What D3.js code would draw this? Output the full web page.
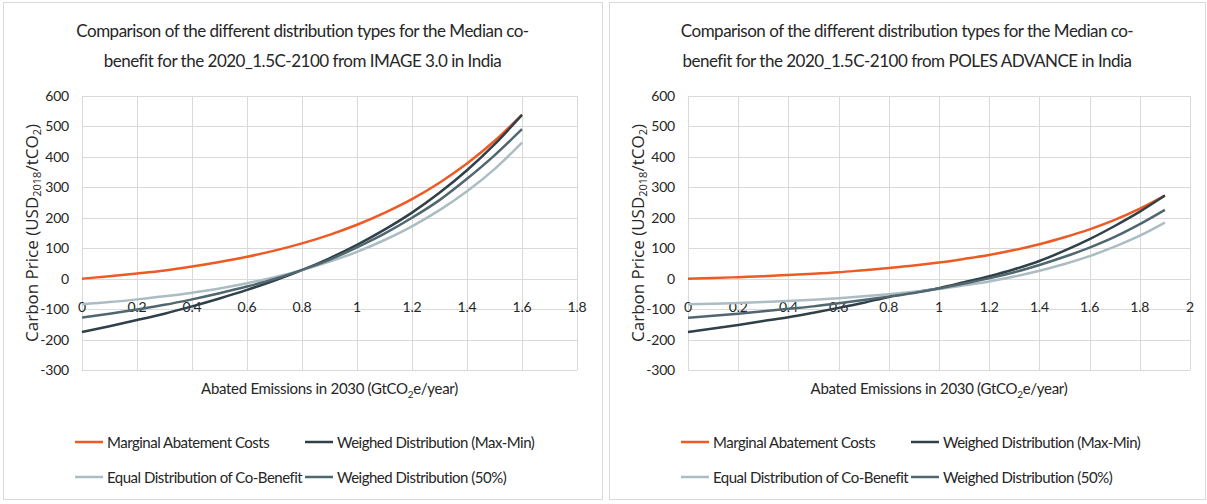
<!DOCTYPE html>
<html>
<head>
<meta charset="utf-8">
<title>Distribution types - India</title>
<script src="https://d3js.org/d3.v7.min.js"></script>
<style>
  body, html { margin: 0; padding: 0; background: #fff; }
  svg { display: block; }
  .narrow { font-family: Lato, "Liberation Sans", sans-serif; fill: #262626; }
  .grid line { stroke: #d9d9d9; stroke-width: 1; }
</style>
</head>
<body>
<svg id="chart" width="1207" height="504"></svg>
<script>
// ---- data ----
const seriesNames = ["Marginal Abatement Costs", "Weighed Distribution (Max-Min)",
                     "Equal Distribution of Co-Benefit", "Weighed Distribution (50%)"];
const seriesColors = ["#ee5a24", "#2f4048", "#abbdc3", "#506770"];

// IMAGE 3.0
const imageX        = [0, 0.1, 0.2, 0.3, 0.4, 0.5, 0.6, 0.7, 0.8, 0.9, 1.0, 1.1, 1.2, 1.3, 1.4, 1.5, 1.6];
const imageMarginal = [0, 8, 17, 27, 40, 55, 72, 92, 116, 144, 177, 216, 261, 315, 378, 452, 538];
const imageMaxMin   = [-175, -156, -136, -115, -91, -65, -37, -6, 28, 67, 111, 161, 217, 282, 356, 441, 538];
const imageEqual    = [-84, -77, -68, -58, -46, -32, -15, 5, 28, 56, 88, 127, 172, 225, 287, 360, 447];
const imageHalf     = [-128, -115, -101, -86, -68, -48, -26, -1, 29, 62, 103, 148, 200, 258, 328, 405, 491];

// POLES ADVANCE
const polesX        = [0, 0.1, 0.2, 0.3, 0.4, 0.5, 0.6, 0.7, 0.8, 0.9, 1.0, 1.1, 1.2, 1.3, 1.4, 1.5, 1.6, 1.7, 1.8, 1.9];
const polesMarginal = [0, 2, 5, 8, 12, 16, 21, 28, 35, 43, 53, 65, 78, 94, 113, 136, 162, 193, 230, 273];
const polesMaxMin   = [-175, -164, -152, -139, -127, -112, -96, -79, -60, -45, -31, -12, 8, 31, 58, 92, 130, 173, 220, 273];
const polesEqual    = [-84, -82, -80, -77, -73, -69, -64, -58, -51, -43, -34, -22, -9, 7, 26, 48, 74, 105, 141, 184];
const polesHalf     = [-128, -122, -115, -107, -99, -91, -81, -70, -59, -47, -32, -16, 1, 21, 45, 72, 102, 137, 179, 226];

const yTicks = [-300, -200, -100, 0, 100, 200, 300, 400, 500, 600];

const charts = [
  { title: ["Comparison of the different distribution types for the Median co-",
            "benefit for the 2020_1.5C-2100 from IMAGE 3.0 in India"],
    x: imageX, xMax: 1.8, xTicks: [0, 0.2, 0.4, 0.6, 0.8, 1, 1.2, 1.4, 1.6, 1.8],
    series: [imageMarginal, imageMaxMin, imageEqual, imageHalf],
    panel: { left: 3, right: 602 }, plot: { left: 82, right: 577 } },
  { title: ["Comparison of the different distribution types for the Median co-",
            "benefit for the 2020_1.5C-2100 from POLES ADVANCE in India"],
    x: polesX, xMax: 2, xTicks: [0, 0.2, 0.4, 0.6, 0.8, 1, 1.2, 1.4, 1.6, 1.8, 2],
    series: [polesMarginal, polesMaxMin, polesEqual, polesHalf],
    panel: { left: 609, right: 1205 }, plot: { left: 688, right: 1190 } }
];

const svg = d3.select("#chart");
const plotTop = 96, plotBottom = 370;

charts.forEach(c => {
  const g = svg.append("g");
  const panelMid = (c.panel.left + c.panel.right) / 2;

  g.append("rect")
    .attr("x", c.panel.left + 0.5).attr("y", 2.5)
    .attr("width", c.panel.right - c.panel.left).attr("height", 497)
    .attr("fill", "#fff").attr("stroke", "#d9d9d9");

  const x = d3.scaleLinear().domain([0, c.xMax]).range([c.plot.left, c.plot.right]);
  const y = d3.scaleLinear().domain([-300, 600]).range([plotBottom, plotTop]);

  // title
  g.selectAll(".title").data(c.title).join("text")
    .attr("class", "narrow")
    .attr("x", panelMid).attr("y", (d, i) => 37 + i * 30)
    .attr("text-anchor", "middle")
    .style("font-size", "17px")
    .style("letter-spacing", "-0.5px")
    .text(d => d);

  // grid
  const grid = g.append("g").attr("class", "grid");
  grid.selectAll(".h").data(yTicks).join("line")
    .attr("x1", c.plot.left).attr("x2", c.plot.right)
    .attr("y1", d => Math.round(y(d)) + 0.5).attr("y2", d => Math.round(y(d)) + 0.5);
  grid.selectAll(".v").data(c.xTicks).join("line")
    .attr("x1", d => Math.round(x(d)) + 0.5).attr("x2", d => Math.round(x(d)) + 0.5)
    .attr("y1", plotTop).attr("y2", plotBottom);

  // y tick labels
  g.selectAll(".ylab").data(yTicks).join("text")
    .attr("class", "narrow")
    .attr("x", c.plot.left - 13).attr("y", d => y(d) + 5)
    .attr("text-anchor", "end")
    .style("font-size", "14px")
    .style("letter-spacing", "-0.2px")
    .text(d => d);

  // x tick labels (sit under the zero line)
  g.selectAll(".xlab").data(c.xTicks).join("text")
    .attr("class", "narrow")
    .attr("x", d => x(d)).attr("y", y(0) + 33)
    .attr("text-anchor", "middle")
    .style("font-size", "14px")
    .style("letter-spacing", "-0.2px")
    .text(d => d);

  // axis titles
  const yt = g.append("text")
    .attr("transform", `translate(${c.panel.left + 35},${(plotTop + plotBottom) / 2}) rotate(-90)`)
    .attr("text-anchor", "middle")
    .style("font-family", "'Open Sans', sans-serif")
    .style("font-size", "17px")
    .attr("fill", "#262626");
  yt.append("tspan").text("Carbon Price (USD");
  yt.append("tspan").attr("dy", 3).style("font-size", "11px").text("2018");
  yt.append("tspan").attr("dy", -3).text("/tCO");
  yt.append("tspan").attr("dy", 3).style("font-size", "11px").text("2");
  yt.append("tspan").attr("dy", -3).text(")");

  const xt = g.append("text")
    .attr("class", "narrow")
    .attr("x", (c.plot.left + c.plot.right) / 2).attr("y", 394)
    .attr("text-anchor", "middle")
    .style("font-size", "15px")
    .style("letter-spacing", "-0.3px");
  xt.append("tspan").text("Abated Emissions in 2030 (GtCO");
  xt.append("tspan").attr("dy", 4).style("font-size", "10px").text("2");
  xt.append("tspan").attr("dy", -4).text("e/year)");

  // lines
  const line = d3.line()
    .x((d, i) => x(c.x[i]))
    .y(d => y(d))
    .curve(d3.curveMonotoneX);
  c.series.forEach((s, k) => {
    g.append("path")
      .attr("d", line(s))
      .attr("fill", "none")
      .attr("stroke", seriesColors[k])
      .attr("stroke-width", 2.5);
  });

  // legend (2 columns, row-wise)
  const lg = g.append("g").attr("transform", `translate(${c.panel.left + 72},0)`);
  seriesNames.forEach((name, k) => {
    const lx = (k % 2) * 230, ly = k < 2 ? 442 : 477;
    lg.append("line")
      .attr("x1", lx).attr("x2", lx + 28).attr("y1", ly).attr("y2", ly)
      .attr("stroke", seriesColors[k]).attr("stroke-width", 2.5);
    lg.append("text")
      .attr("class", "narrow")
      .attr("x", lx + 32).attr("y", ly + 5.5)
      .style("font-size", "15px")
      .style("letter-spacing", "-0.5px")
      .text(name);
  });
});
</script>
</body>
</html>
